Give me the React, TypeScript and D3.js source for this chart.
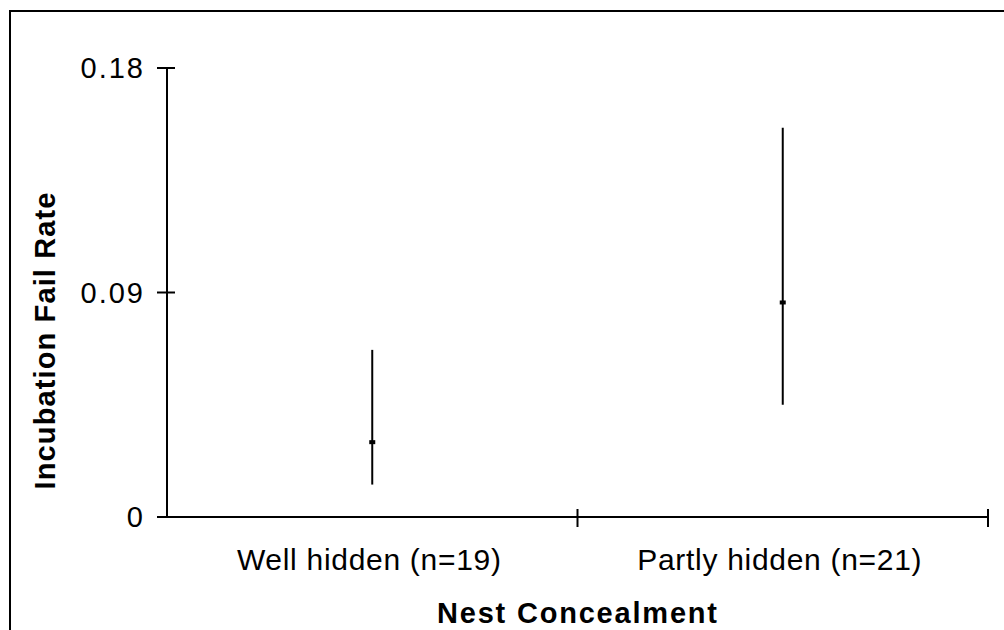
import React from "react";
import * as d3 from "d3";

const categories = ["Well hidden (n=19)", "Partly hidden (n=21)"];
const means = [0.030, 0.086];
const upper = [0.067, 0.156];
const lower = [0.013, 0.045];
const yTicks = [0, 0.09, 0.18];
const yTickLabels = ["0", "0.09", "0.18"];
const xTitle = "Nest Concealment";
const yTitle = "Incubation Fail Rate";

const W = 1004;
const H = 630;
const left = 167;
const right = 988;
const top = 68;
const bottom = 517;
const font = "'Liberation Sans', Arial, sans-serif";

export default function App() {
  const x = d3.scaleBand<string>().domain(categories).range([left, right]).padding(0);
  const y = d3.scaleLinear().domain([0, 0.18]).range([bottom, top]);
  const bw = x.bandwidth();
  const xTickPos = [left, ...categories.map((c) => (x(c) as number) + bw)];

  return (
    <svg
      width={W}
      height={H}
      style={{ position: "absolute", left: 0, top: 0, background: "#fff" }}
    >
      <rect x={0} y={0} width={W} height={H} fill="#fff" />
      <rect x={10} y={11} width={W + 20} height={H + 20} fill="none" stroke="#000" strokeWidth={2} />
      {/* axes */}
      <line x1={left} x2={left} y1={y(0.18)} y2={bottom} stroke="#000" strokeWidth={2} />
      <line x1={left} x2={right} y1={bottom} y2={bottom} stroke="#000" strokeWidth={2} />
      {yTicks.map((t, i) => (
        <g key={"yt" + i}>
          <line x1={left - 10} x2={left + 8} y1={y(t)} y2={y(t)} stroke="#000" strokeWidth={2} />
          <text
            x={145}
            y={y(t) + 10}
            textAnchor="end"
            fontFamily={font}
            fontSize={29}
            letterSpacing={2}
            fill="#000"
          >
            {yTickLabels[i]}
          </text>
        </g>
      ))}
      {xTickPos.slice(1).map((p, i) => (
        <line key={"xt" + i} x1={p} x2={p} y1={bottom - 8} y2={bottom + 10} stroke="#000" strokeWidth={2} />
      ))}
      {categories.map((c) => (
        <text
          key={"cl" + c}
          x={(x(c) as number) + bw / 2 - 3}
          y={570}
          textAnchor="middle"
          fontFamily={font}
          fontSize={30}
          letterSpacing={0.7}
          fill="#000"
        >
          {c}
        </text>
      ))}
      {/* error bars */}
      {categories.map((c, i) => {
        const cx = (x(c) as number) + bw / 2;
        return (
          <g key={"eb" + c}>
            <line x1={cx} x2={cx} y1={y(upper[i])} y2={y(lower[i])} stroke="#000" strokeWidth={2} />
            <rect x={cx - 3} y={y(means[i]) - 2} width={6} height={4} fill="#000" />
          </g>
        );
      })}
      {/* titles */}
      <text
        x={577}
        y={623}
        textAnchor="middle"
        fontFamily={font}
        fontSize={29}
        fontWeight="bold"
        textLength={280}
        lengthAdjust="spacing"
        fill="#000"
      >
        {xTitle}
      </text>
      <text
        transform={`translate(55, 341) rotate(-90)`}
        textAnchor="middle"
        fontFamily={font}
        fontSize={29}
        fontWeight="bold"
        textLength={297}
        lengthAdjust="spacing"
        fill="#000"
      >
        {yTitle}
      </text>
    </svg>
  );
}
